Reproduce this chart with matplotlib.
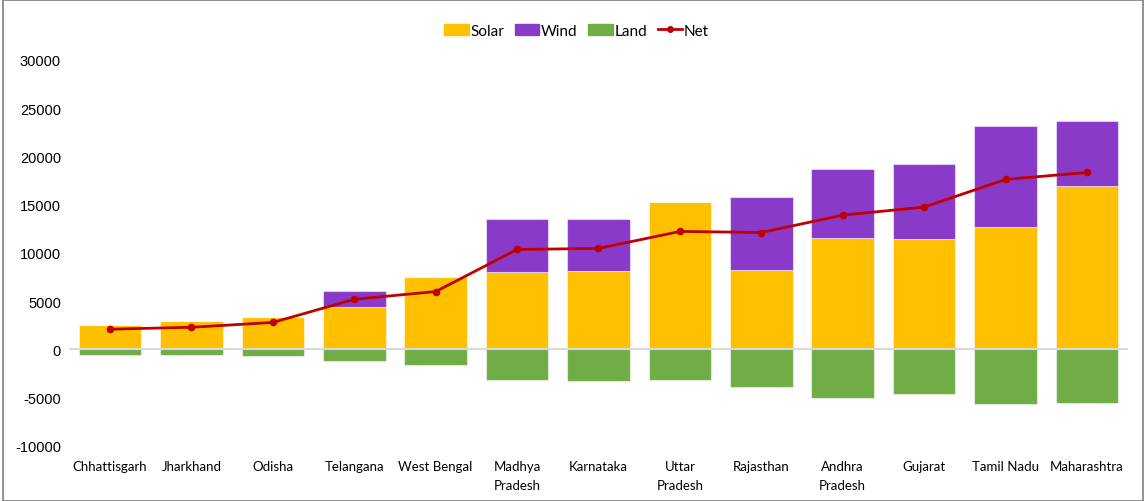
import matplotlib
matplotlib.use("Agg")
import matplotlib.pyplot as plt
from matplotlib.patches import Rectangle
from matplotlib.lines import Line2D
import numpy as np

states = ["Chhattisgarh", "Jharkhand", "Odisha", "Telangana", "West Bengal",
          "Madhya\nPradesh", "Karnataka", "Uttar\nPradesh", "Rajasthan",
          "Andhra\nPradesh", "Gujarat", "Tamil Nadu", "Maharashtra"]
solar = [2500, 2900, 3400, 4450, 7550, 8000, 8080, 15230, 8200, 11600, 11470, 12680, 16960]
wind = [0, 0, 0, 1650, 0, 5470, 5490, 0, 7650, 7150, 7770, 10500, 6700]
land = [-600, -600, -700, -1150, -1650, -3200, -3300, -3200, -3940, -5000, -4660, -5630, -5530]
net = [2100, 2300, 2800, 5200, 6000, 10360, 10470, 12230, 12120, 13920, 14750, 17620, 18340]
y_ticks = [-10000, -5000, 0, 5000, 10000, 15000, 20000, 25000, 30000]

c_solar, c_wind, c_land, c_net = "#FFC000", "#8A3AC9", "#70AD47", "#C00000"

label_font = ["Lato", "DejaVu Sans"]

fig = plt.figure(figsize=(11.46, 5.02), dpi=100)
ax = fig.add_axes([0.0605, 0.1096, 0.9235, 0.769])

x = np.arange(len(states))
w = 0.77
edge = dict(edgecolor=(1, 1, 1, 0.5), linewidth=0.8)
ax.bar(x, solar, w, color=c_solar, zorder=2, **edge)
ax.bar(x, wind, w, bottom=solar, color=c_wind, zorder=2, **edge)
ax.bar(x, land, w, color=c_land, zorder=2, **edge)
ax.axhline(0, color="#D9D9D9", lw=1.5, zorder=3)
ax.plot(x, net, color=c_net, lw=2, marker="o", ms=4.5, zorder=4)

ax.set_xlim(-0.5, len(states) - 0.5)
ax.set_ylim(-10000, 30000)
ax.set_yticks(y_ticks)
ax.set_yticklabels([str(v) for v in y_ticks], fontsize=10.5,
                   family=["Liberation Sans", "DejaVu Sans"])
ax.set_xticks(x)
ax.set_xticklabels(states, fontsize=9.5, family=label_font, linespacing=1.75, va="top")
ax.tick_params(axis="both", length=0)
ax.tick_params(axis="x", pad=10)
ax.tick_params(axis="y", pad=6)
for s in ax.spines.values():
    s.set_visible(False)

handles = [Rectangle((0, 0), 1, 1, color=c_solar),
           Rectangle((0, 0), 1, 1, color=c_wind),
           Rectangle((0, 0), 1, 1, color=c_land),
           Line2D([0], [0], color=c_net, lw=2, marker="o", ms=4)]
fig.legend(handles, ["Solar", "Wind", "Land", "Net"], loc="center",
           bbox_to_anchor=(0.503, 0.937), ncol=4, frameon=False,
           prop={"family": label_font, "size": 11}, handlelength=1.6,
           handleheight=0.75, handletextpad=0.1, columnspacing=0.7)

# chart frame
fig.add_artist(Rectangle((0.003, 0.0), 0.994, 0.998, transform=fig.transFigure,
                         fill=False, edgecolor="#7F7F7F", lw=1.2))

fig.savefig("out.png", dpi=100)
